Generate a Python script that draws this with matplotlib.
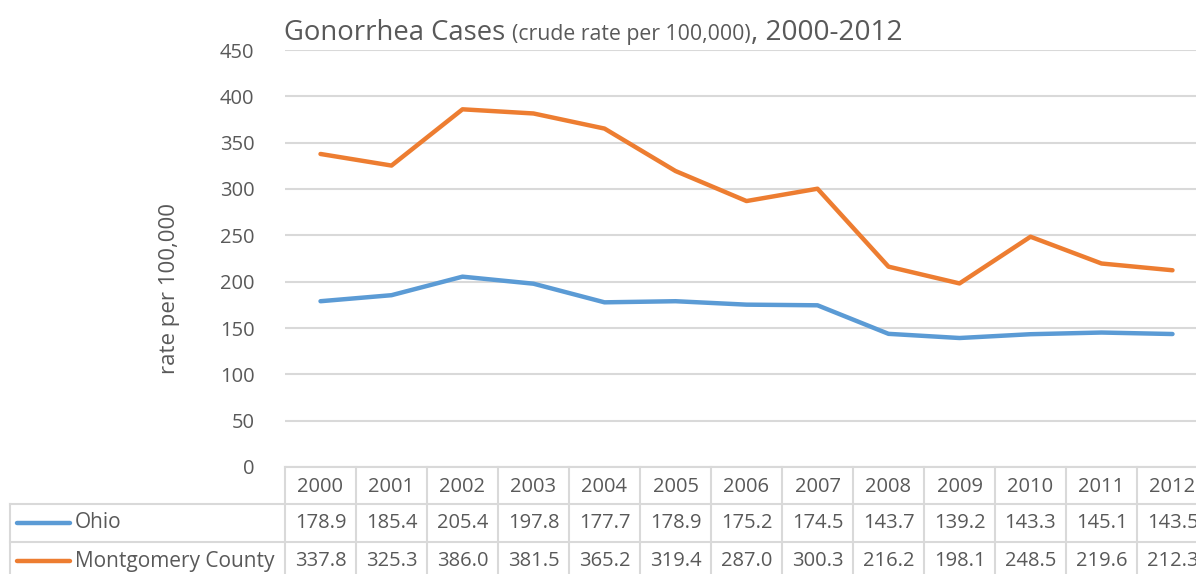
import matplotlib
matplotlib.use("Agg")
import matplotlib.pyplot as plt
from matplotlib.lines import Line2D

years = [2000, 2001, 2002, 2003, 2004, 2005, 2006, 2007, 2008, 2009, 2010, 2011, 2012]
ohio = [178.9, 185.4, 205.4, 197.8, 177.7, 178.9, 175.2, 174.5, 143.7, 139.2, 143.3, 145.1, 143.5]
montgomery = [337.8, 325.3, 386.0, 381.5, 365.2, 319.4, 287.0, 300.3, 216.2, 198.1, 248.5, 219.6, 212.3]
series_names = ["Ohio", "Montgomery County"]
series_colors = ["#5B9BD5", "#ED7D31"]
yticks = [0, 50, 100, 150, 200, 250, 300, 350, 400, 450]

FONT = "Open Sans"
TXT = "#595959"
GRID = "#D9D9D9"
W, H = 1196, 574
FS_NUM = 14.5
FS_NAME = 15
FS_YLAB = 16
plt.rcParams['font.family'] = [FONT, 'DejaVu Sans']

fig = plt.figure(figsize=(W / 100, H / 100), dpi=100)

def fx(px):
    return px / W

def fy(py):
    return 1 - py / H

ax_l, ax_r, ax_t, ax_b = 285, 1208, 50, 467
ax = fig.add_axes([fx(ax_l), fy(ax_b), fx(ax_r - ax_l), (ax_b - ax_t) / H])
n = len(years)
xs = list(range(n))
ax.set_xlim(-0.5, n - 0.5)
ax.set_ylim(0, 450)
ax.set_yticks(yticks)
ax.yaxis.grid(True, color=GRID, lw=1.5)
ax.set_axisbelow(True)
for s in ax.spines.values():
    s.set_visible(False)
ax.tick_params(axis='y', length=0, labelsize=FS_NUM, labelcolor=TXT, pad=22)
ax.tick_params(axis='x', length=0, labelbottom=False)
ax.set_facecolor('none')

for vals, c in zip([ohio, montgomery], series_colors):
    ax.plot(xs, vals, color=c, lw=3.2, solid_joinstyle='round', solid_capstyle='round')

# y label
fig.text(fx(170), fy(289), "rate per 100,000", rotation=90, ha='center', va='center',
         fontsize=FS_YLAB, color=TXT)

# Title in pieces
renderer = fig.canvas.get_renderer()
x0 = 284
parts = [("Gonorrhea Cases ", 19.8), ("(crude rate per 100,000)", 15.3), (", 2000-2012", 20.2)]
for txt, sz in parts:
    t = fig.text(fx(x0), fy(40), txt, fontsize=sz, color=TXT, ha='left', va='baseline')
    bb = t.get_window_extent(renderer)
    x0 += bb.width

# Data table
colw = (ax_r - ax_l) / n
rows_y = [467, 504, 542, 580]
line_kw = dict(color=GRID, lw=1.5, transform=fig.transFigure, clip_on=False)
fig.add_artist(Line2D([fx(ax_l), fx(ax_r)], [fy(rows_y[0])] * 2, **line_kw))
for yy in rows_y[1:]:
    fig.add_artist(Line2D([fx(10), fx(ax_r)], [fy(yy)] * 2, **line_kw))
for i in range(n + 1):
    xx = ax_l + i * colw
    fig.add_artist(Line2D([fx(xx)] * 2, [fy(rows_y[0]), fy(rows_y[3])], **line_kw))
fig.add_artist(Line2D([fx(10)] * 2, [fy(rows_y[1]), fy(rows_y[3])], **line_kw))

for i, yv in enumerate(years):
    fig.text(fx(ax_l + (i + 0.5) * colw), fy((rows_y[0] + rows_y[1]) / 2 + 1), str(yv),
             ha='center', va='center', fontsize=FS_NUM, color=TXT)

for r, (name, vals, c) in enumerate(zip(series_names, [ohio, montgomery], series_colors)):
    yc = fy((rows_y[r + 1] + rows_y[r + 2]) / 2)
    fig.add_artist(Line2D([fx(17), fx(70)], [yc, yc], color=c, lw=3.2,
                          solid_capstyle='round', transform=fig.transFigure))
    fig.text(fx(75), yc, name, ha='left', va='center', fontsize=FS_NAME, color=TXT)
    for i, v in enumerate(vals):
        fig.text(fx(ax_l + (i + 0.5) * colw), yc, f"{v:.1f}",
                 ha='center', va='center', fontsize=FS_NUM, color=TXT)

fig.savefig("out.png", dpi=100)
